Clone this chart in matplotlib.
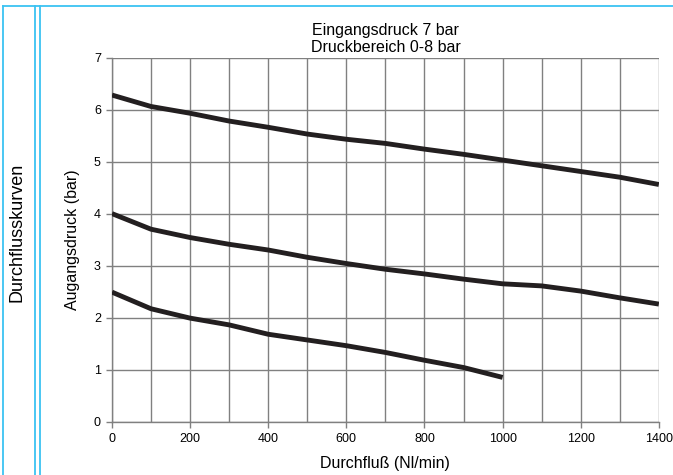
import numpy as np
import matplotlib
matplotlib.use("Agg")
import matplotlib.pyplot as plt
from matplotlib.lines import Line2D
from matplotlib.ticker import MultipleLocator

plt.rcParams["font.family"] = ["Liberation Sans", "DejaVu Sans"]

# Durchfluss (Nl/min)
flow = [0, 100, 200, 300, 400, 500, 600, 700, 800, 900, 1000, 1100, 1200, 1300, 1400]
# Ausgangsdruck (bar) fuer drei Einstellungen
p_high = [6.28, 6.06, 5.93, 5.78, 5.66, 5.53, 5.43, 5.35, 5.24, 5.14, 5.03, 4.92, 4.81, 4.70, 4.56]
p_mid = [4.00, 3.70, 3.54, 3.41, 3.30, 3.16, 3.04, 2.93, 2.84, 2.74, 2.65, 2.61, 2.51, 2.38, 2.26]
flow_low = [0, 100, 200, 300, 400, 500, 600, 700, 800, 900, 1000]
p_low = [2.49, 2.17, 1.99, 1.86, 1.68, 1.57, 1.46, 1.33, 1.18, 1.04, 0.85]

title = "Eingangsdruck 7 bar\nDruckbereich 0-8 bar"
xlabel = "Durchfluß (Nl/min)"
ylabel = "Augangsdruck (bar)"
side_label = "Durchflusskurven"

blue = "#3cc3f2"
grid_col = "#808080"
curve_col = "#231f20"

fig = plt.figure(figsize=(6.73, 4.75), dpi=100)
ax = fig.add_axes([0.1664, 0.1124, 0.8126, 0.7663])

for xs, ys in [(flow, p_high), (flow, p_mid), (flow_low, p_low)]:
    ax.plot(xs, ys, color=curve_col, lw=3.5, solid_capstyle="butt",
            solid_joinstyle="round", zorder=3)

ax.set_xlim(0, 1400)
ax.set_ylim(0, 7)
ax.xaxis.set_major_locator(MultipleLocator(200))
ax.xaxis.set_minor_locator(MultipleLocator(100))
ax.yaxis.set_major_locator(MultipleLocator(1))
ax.grid(which="both", color=grid_col, lw=1.0)
ax.tick_params(which="major", length=4, width=1, color=grid_col, labelsize=9, pad=4)
ax.tick_params(which="minor", length=0)
for side in ["top", "right"]:
    ax.spines[side].set_visible(False)
for side in ["left", "bottom"]:
    ax.spines[side].set_color(grid_col)
    ax.spines[side].set_linewidth(1.0)

ax.set_title(title, fontsize=11.5, linespacing=1.15, pad=4)
ax.set_xlabel(xlabel, fontsize=11.5, labelpad=8)
ax.set_ylabel(ylabel, fontsize=11.5, labelpad=10)

# blue frame lines of the data sheet
W, H = 673, 475
def px_line(x0, y0, x1, y1):
    fig.add_artist(Line2D([x0 / W, x1 / W], [1 - y0 / H, 1 - y1 / H],
                          transform=fig.transFigure, color=blue, lw=1.3))

px_line(3, 6, 673, 6)
px_line(3, 6, 3, 475)
px_line(35, 6, 35, 475)
px_line(40, 6, 40, 475)

fig.text(17 / W, 1 - 232 / H, side_label, rotation=90, fontsize=13,
         ha="center", va="center")

fig.savefig("out.png", dpi=100)
